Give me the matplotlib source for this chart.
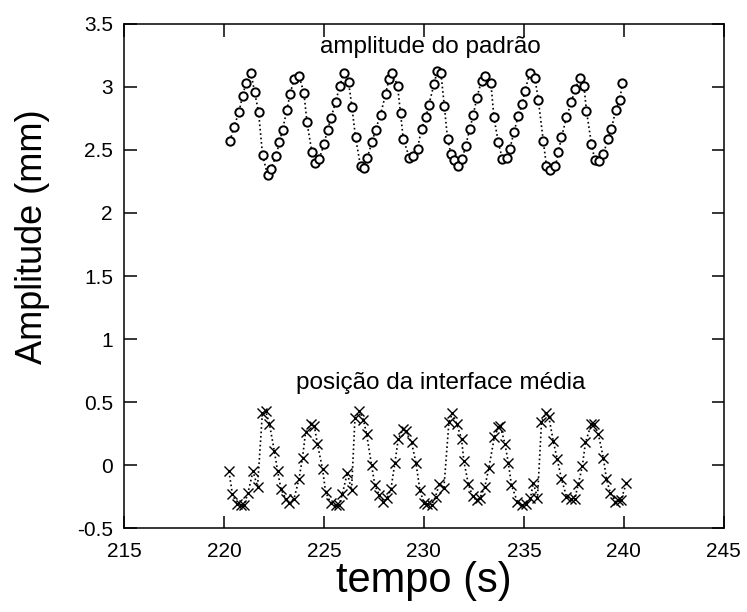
import matplotlib
matplotlib.use('Agg')
import matplotlib.pyplot as plt
from matplotlib.ticker import FuncFormatter, MultipleLocator

plt.rcParams['font.family'] = ['Liberation Sans', 'DejaVu Sans']

# amplitude do padrão (círculos)
t_amp = [220.3, 220.5, 220.75, 220.93, 221.1, 221.35, 221.53, 221.73, 221.93, 222.18,
         222.35, 222.6, 222.77, 222.93, 223.15, 223.3, 223.5, 223.75, 224.0, 224.15,
         224.4, 224.55, 224.77, 225.0, 225.18, 225.35, 225.58, 225.8, 225.98, 226.23,
         226.4, 226.58, 226.83, 227.0, 227.17, 227.4, 227.58, 227.83, 228.08, 228.25,
         228.42, 228.68, 228.83, 228.97, 229.27, 229.47, 229.68, 229.88, 230.1, 230.25,
         230.5, 230.67, 230.85, 231.02, 231.18, 231.35, 231.5, 231.72, 231.92, 232.08,
         232.3, 232.47, 232.65, 232.88, 233.05, 233.35, 233.5, 233.72, 233.92, 234.13,
         234.3, 234.5, 234.72, 234.92, 235.05, 235.3, 235.55, 235.72, 235.97, 236.13,
         236.33, 236.58, 236.72, 236.88, 237.13, 237.38, 237.55, 237.8, 238.0, 238.13,
         238.38, 238.55, 238.75, 238.97, 239.22, 239.38, 239.6, 239.8, 239.92]
amp = [2.57, 2.685, 2.80, 2.93, 3.03, 3.11, 2.96, 2.80, 2.46, 2.30,
       2.35, 2.45, 2.56, 2.66, 2.82, 2.94, 3.06, 3.09, 2.95, 2.72,
       2.48, 2.40, 2.43, 2.545, 2.66, 2.75, 2.88, 3.01, 3.11, 3.04,
       2.84, 2.60, 2.37, 2.36, 2.44, 2.56, 2.66, 2.78, 2.94, 3.06,
       3.11, 3.01, 2.79, 2.585, 2.44, 2.45, 2.51, 2.67, 2.76, 2.86,
       3.02, 3.13, 3.11, 2.85, 2.59, 2.47, 2.42, 2.37, 2.43, 2.53,
       2.67, 2.78, 2.915, 3.05, 3.09, 3.03, 2.76, 2.56, 2.43, 2.44,
       2.51, 2.64, 2.77, 2.865, 2.97, 3.11, 3.07, 2.90, 2.57, 2.37,
       2.34, 2.37, 2.48, 2.60, 2.76, 2.88, 2.98, 3.07, 3.01, 2.81,
       2.545, 2.42, 2.41, 2.47, 2.59, 2.67, 2.82, 2.90, 3.03]

# posição da interface média (cruzes)
t_pos = [220.25, 220.42, 220.65, 220.83, 221.0, 221.2, 221.45, 221.68, 221.92, 222.08,
         222.27, 222.52, 222.68, 222.85, 223.08, 223.25, 223.5, 223.75, 223.93, 224.08,
         224.35, 224.52, 224.67, 224.93, 225.08, 225.33, 225.58, 225.75, 225.92, 226.17,
         226.38, 226.55, 226.77, 226.97, 227.13, 227.38, 227.55, 227.77, 227.97, 228.17,
         228.35, 228.55, 228.72, 228.97, 229.08, 229.38, 229.6, 229.8, 230.0, 230.17,
         230.38, 230.58, 230.77, 231.0, 231.25, 231.42, 231.63, 231.88, 232.0, 232.22,
         232.43, 232.63, 232.8, 233.05, 233.25, 233.52, 233.72, 233.82, 234.05, 234.22,
         234.38, 234.67, 234.92, 235.1, 235.33, 235.47, 235.68, 235.88, 236.1, 236.25,
         236.47, 236.67, 236.88, 237.13, 237.38, 237.55, 237.72, 237.92, 238.08, 238.38,
         238.5, 238.72, 238.97, 239.13, 239.33, 239.58, 239.7, 239.85, 240.13]
pos = [-0.05, -0.23, -0.31, -0.32, -0.32, -0.22, -0.05, -0.17, 0.41, 0.43,
       0.33, 0.11, -0.045, -0.19, -0.265, -0.30, -0.27, -0.11, 0.06, 0.26,
       0.33, 0.31, 0.17, -0.03, -0.21, -0.30, -0.32, -0.32, -0.23, -0.06,
       -0.20, 0.37, 0.43, 0.36, 0.25, 0.0, -0.16, -0.24, -0.29, -0.26,
       -0.19, 0.02, 0.21, 0.29, 0.27, 0.18, 0.02, -0.20, -0.30, -0.31,
       -0.315, -0.25, -0.15, -0.18, 0.34, 0.41, 0.33, 0.21, 0.03, -0.15,
       -0.245, -0.28, -0.26, -0.17, -0.02, 0.22, 0.30, 0.31, 0.17, 0.02,
       -0.16, -0.29, -0.32, -0.31, -0.26, -0.14, -0.26, 0.34, 0.415, 0.38,
       0.19, 0.045, -0.11, -0.25, -0.265, -0.265, -0.15, -0.01, 0.18, 0.33,
       0.33, 0.25, 0.06, -0.11, -0.225, -0.29, -0.28, -0.28, -0.14]

fig = plt.figure(figsize=(7.47, 6.12), dpi=100)
ax = fig.add_axes([0.166, 0.137, 0.803, 0.824])

ax.plot(t_amp, amp, linestyle=':', color='black', linewidth=1.2,
        marker='o', markersize=6, markerfacecolor='white',
        markeredgecolor='black', markeredgewidth=1.4)
ax.plot(t_pos, pos, linestyle=':', color='black', linewidth=1.2,
        marker='x', markersize=7, markeredgewidth=1.0)

ax.text(230.3, 3.32, 'amplitude do padrão', ha='center', va='center', fontsize=17.5)
ax.text(230.85, 0.65, 'posição da interface média', ha='center', va='center', fontsize=17.5)

ax.set_xlim(215, 245)
ax.set_ylim(-0.5, 3.5)
ax.xaxis.set_major_locator(MultipleLocator(5))
ax.yaxis.set_major_locator(MultipleLocator(0.5))
ax.yaxis.set_major_formatter(FuncFormatter(lambda v, p: '%g' % v))
ax.xaxis.set_major_formatter(FuncFormatter(lambda v, p: '%g' % v))
ax.tick_params(direction='in', length=9, width=1.1, top=True, right=True,
               labelsize=15)
ax.tick_params(axis='y', pad=8)
ax.tick_params(axis='x', pad=10)
for s in ax.spines.values():
    s.set_linewidth(1.1)

ax.set_xlabel('tempo (s)', fontsize=30, labelpad=0)
ax.set_ylabel('Amplitude (mm)', fontsize=26)
ax.yaxis.set_label_coords(-0.123, 0.577)

fig.savefig('out.png', dpi=100)
